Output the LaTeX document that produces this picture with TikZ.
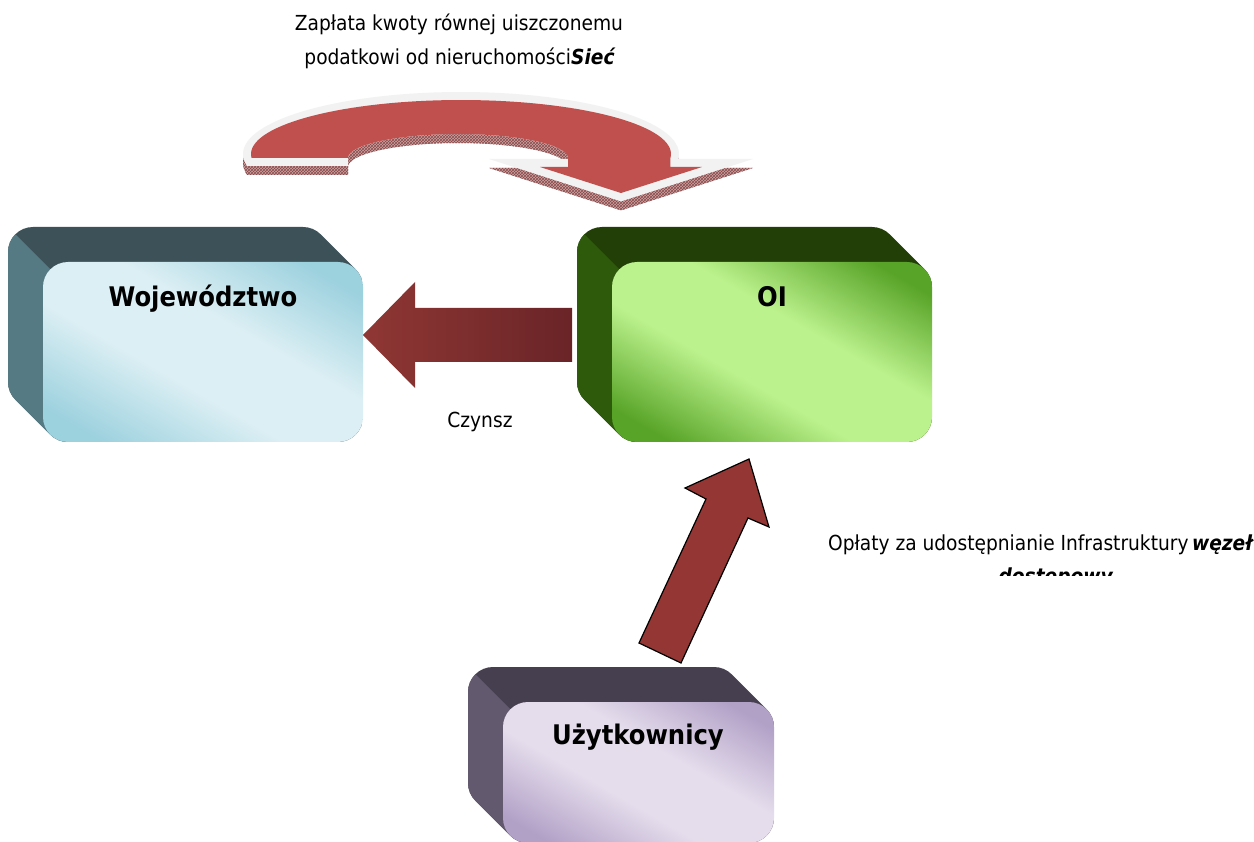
\documentclass[tikz,border=0pt]{standalone}
\usepackage{fontspec}
\setmainfont{DejaVu Sans Condensed}[BoldFont={DejaVu Sans Condensed Bold},ItalicFont={DejaVu Sans Condensed Oblique},BoldItalicFont={DejaVu Sans Condensed Bold Oblique}]
\usetikzlibrary{patterns}
\definecolor{wojT}{HTML}{3D5159}
\definecolor{wojS}{HTML}{567A83}
\definecolor{wojL}{HTML}{DCEFF4}
\definecolor{wojD}{HTML}{9CD1DE}
\definecolor{oiT}{HTML}{213F07}
\definecolor{oiS}{HTML}{2E5B0B}
\definecolor{oiL}{HTML}{BCF28D}
\definecolor{oiD}{HTML}{58A428}
\definecolor{uzT}{HTML}{463F50}
\definecolor{uzS}{HTML}{62596F}
\definecolor{uzL}{HTML}{E5DDEC}
\definecolor{uzD}{HTML}{B2A1C7}
\definecolor{arrR}{HTML}{943634}
\definecolor{arrLa}{HTML}{8F3734}
\definecolor{arrLb}{HTML}{6A2427}
\definecolor{curR}{HTML}{C0504D}
\definecolor{curG}{HTML}{F2F2F2}
\definecolor{hatchBg}{HTML}{C9A3A3}
\definecolor{hatchFg}{HTML}{8B4A4A}
\pgfdeclareverticalshading{wojshade}{100bp}{color(0bp)=(wojD); color(22bp)=(wojD); color(42bp)=(wojL); color(58bp)=(wojL); color(78bp)=(wojD); color(100bp)=(wojD)}
\pgfdeclareverticalshading{oishade}{100bp}{color(0bp)=(oiD); color(22bp)=(oiD); color(42bp)=(oiL); color(58bp)=(oiL); color(78bp)=(oiD); color(100bp)=(oiD)}
\pgfdeclareverticalshading{uzshade}{100bp}{color(0bp)=(uzD); color(22bp)=(uzD); color(42bp)=(uzL); color(58bp)=(uzL); color(78bp)=(uzD); color(100bp)=(uzD)}
\newcommand{\extbox}[7]{%
  \begin{scope}
    \clip[rounded corners=25] \foreach \k in {0,...,35} { ({#1-\k},{#2-\k}) rectangle ({#3-\k},{#4-\k}) };
    \fill[#5] ({#1-60},{#2-60}) rectangle (#3,#4);
    \fill[#6] ({#1-100},{#2-100}) -- ({#1+400},{#2+400}) -- ({#1-100},{#2+400}) -- cycle;
  \end{scope}
  \shade[shading=#7, shading angle=-30, rounded corners=25] (#1,#2) rectangle (#3,#4);
}
\newcommand{\rimpath}{(247,166) -- plot[domain=168.84:364.62, samples=70] ({461+218*cos(\x)},{154+62*sin(\x)}) -- (753,159) -- (621,201.4) -- (489,159) -- (568,159) -- plot[domain=360:180, samples=50] ({458+110*cos(\x)},{158+24*sin(\x)}) -- (348,166) -- cycle}
\tikzset{
  lbl/.style={font=\fontsize{20.7}{24}\selectfont, inner sep=0pt, anchor=base},
  title/.style={font=\fontsize{27}{32}\selectfont\bfseries, inner sep=0pt, anchor=base},
}
\begin{document}
\begin{tikzpicture}[x=1pt,y=-1pt]
\useasboundingbox (0,0) rectangle (1254,842);
\fill[white] (0,0) rectangle (1254,842);

% curved arrow: hatched side, grey rim, red face
\begin{scope}[shift={(0,9)}]
  \path[fill=hatchBg] \rimpath;
  \path[pattern=crosshatch, pattern color=hatchFg] \rimpath;
\end{scope}
\path[fill=curG] \rimpath;
\path[fill=curR] (251.6,158) -- plot[domain=175.75:364.25, samples=70] ({461+210*cos(\x)},{154+54*sin(\x)}) -- (670.4,167) -- (702,167) -- (621,193) -- (540,167) -- (568,167) -- plot[domain=360:180, samples=50] ({458+110*cos(\x)},{158+24*sin(\x)}) -- cycle;

% boxes
\extbox{43}{262}{363}{442}{wojT}{wojS}{wojshade}
\extbox{612}{262}{932}{442}{oiT}{oiS}{oishade}
\extbox{503}{702}{774}{843}{uzT}{uzS}{uzshade}

\node[title] (woj) at (203,307) {Województwo};
\node[title] (oi) at (772,307) {OI};
\node[title] (uzy) at (638,744) {Użytkownicy};

% left arrow
\shade[left color=arrLa, right color=arrLb] (363,335) -- (415,282) -- (415,308) -- (572,308) -- (572,362) -- (415,362) -- (415,388) -- cycle;

% up arrow
\draw[fill=arrR, draw=black, line width=1.2pt, line join=miter] (639,643) -- (681,663) -- (748,518) -- (769,527) -- (749,459) -- (685,488) -- (706,499) -- cycle;

% labels
\node[lbl] (t1) at (459,31) {Zapłata kwoty równej uiszczonemu};
\node[lbl] (t2) at (460,65) {podatkowi od nieruchomości\textbf{\textit{Sieć}}};
\node[lbl] (czynsz) at (480,428) {Czynsz};
\node[lbl] (op1) at (1041,550) {Opłaty za udostępnianie Infrastruktury\,\textbf{\textit{węzeł}}};
\begin{scope}
  \clip (800,555) rectangle (1254,575);
  \node[lbl] (op2) at (1056,583) {\textbf{\textit{dostępowy}}};
\end{scope}
\end{tikzpicture}
\end{document}
